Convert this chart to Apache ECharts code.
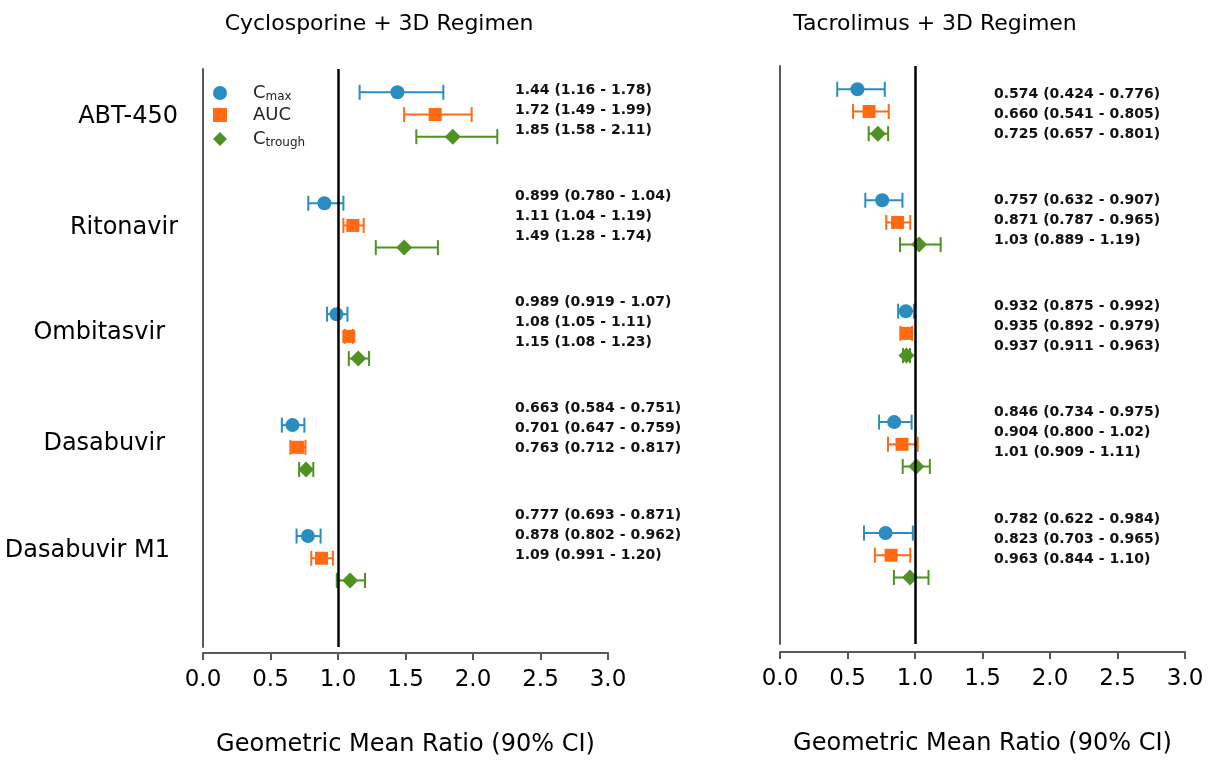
<!DOCTYPE html>
<html><head><meta charset="utf-8">
<script src="https://cdn.jsdelivr.net/npm/echarts@6/dist/echarts.min.js"></script>
<style>html,body{margin:0;padding:0;background:#fff}#chart{width:1209px;height:762px}</style>
</head><body><div id="chart"></div>
<script>
// ---------------- DATA ----------------
const categories = ['ABT-450', 'Ritonavir', 'Ombitasvir', 'Dasabuvir', 'Dasabuvir M1'];
const measures = ['Cmax', 'AUC', 'Ctrough'];
const panelTitles = ['Cyclosporine + 3D Regimen', 'Tacrolimus + 3D Regimen'];
const axisTitle = 'Geometric Mean Ratio (90% CI)';
const xTickValues = [0, 0.5, 1, 1.5, 2, 2.5, 3];

// [estimate, lower, upper] as drawn
const cycCmax    = [[1.44, 1.16, 1.78], [0.899, 0.780, 1.04], [0.989, 0.919, 1.07], [0.663, 0.584, 0.751], [0.777, 0.693, 0.871]];
const cycAuc     = [[1.72, 1.49, 1.99], [1.11, 1.04, 1.19], [1.08, 1.05, 1.11], [0.701, 0.647, 0.759], [0.878, 0.802, 0.962]];
const cycCtrough = [[1.85, 1.58, 2.18], [1.49, 1.28, 1.74], [1.15, 1.08, 1.23], [0.763, 0.712, 0.817], [1.09, 0.991, 1.20]];

const tacCmax    = [[0.574, 0.424, 0.776], [0.757, 0.632, 0.907], [0.932, 0.875, 0.992], [0.846, 0.734, 0.975], [0.782, 0.622, 0.984]];
const tacAuc     = [[0.660, 0.541, 0.805], [0.871, 0.787, 0.965], [0.935, 0.892, 0.979], [0.904, 0.800, 1.02], [0.823, 0.703, 0.965]];
const tacCtrough = [[0.725, 0.657, 0.801], [1.03, 0.889, 1.19], [0.937, 0.911, 0.963], [1.01, 0.909, 1.11], [0.963, 0.844, 1.10]];

// printed text
const cycLabels = [
  ['1.44 (1.16 - 1.78)', '1.72 (1.49 - 1.99)', '1.85 (1.58 - 2.11)'],
  ['0.899 (0.780 - 1.04)', '1.11 (1.04 - 1.19)', '1.49 (1.28 - 1.74)'],
  ['0.989 (0.919 - 1.07)', '1.08 (1.05 - 1.11)', '1.15 (1.08 - 1.23)'],
  ['0.663 (0.584 - 0.751)', '0.701 (0.647 - 0.759)', '0.763 (0.712 - 0.817)'],
  ['0.777 (0.693 - 0.871)', '0.878 (0.802 - 0.962)', '1.09 (0.991 - 1.20)']
];
const tacLabels = [
  ['0.574 (0.424 - 0.776)', '0.660 (0.541 - 0.805)', '0.725 (0.657 - 0.801)'],
  ['0.757 (0.632 - 0.907)', '0.871 (0.787 - 0.965)', '1.03 (0.889 - 1.19)'],
  ['0.932 (0.875 - 0.992)', '0.935 (0.892 - 0.979)', '0.937 (0.911 - 0.963)'],
  ['0.846 (0.734 - 0.975)', '0.904 (0.800 - 1.02)', '1.01 (0.909 - 1.11)'],
  ['0.782 (0.622 - 0.984)', '0.823 (0.703 - 0.965)', '0.963 (0.844 - 1.10)']
];

// ---------------- STYLE / LAYOUT ----------------
const colors = ['#2A8CBF', '#FF6A13', '#4E9322'];
const symbols = ['circle', 'rect', 'diamond'];
const symbolSizes = [14, 13, 16];
const rowOffset = [-0.2, 0, 0.2];
const FONT = 'DejaVu Sans';
const panels = [
  { data: [cycCmax, cycAuc, cycCtrough], labels: cycLabels, gridLeft: 203, gridTop: 69, xOffset: 6,
    titleX: 374, textX: 515, textTop: 90 },
  { data: [tacCmax, tacAuc, tacCtrough], labels: tacLabels, gridLeft: 780, gridTop: 66, xOffset: 8,
    titleX: 930, textX: 994, textTop: 94 }
];
const textGroupStep = 106.25, textLineStep = 20;
const catLabelRight = [178, 178, 165, 165, 170];
const catLabelDy = [2, 2, -4, -4, -7];

function errRenderItem(params, api) {
  const y = api.value(3);
  const lo = api.coord([api.value(1), y]);
  const hi = api.coord([api.value(2), y]);
  const h = 7.5;
  const style = { stroke: api.visual('color'), lineWidth: 2 };
  return { type: 'group', children: [
    { type: 'line', shape: { x1: lo[0], y1: lo[1], x2: hi[0], y2: hi[1] }, style },
    { type: 'line', shape: { x1: lo[0], y1: lo[1] - h, x2: lo[0], y2: lo[1] + h }, style },
    { type: 'line', shape: { x1: hi[0], y1: hi[1] - h, x2: hi[0], y2: hi[1] + h }, style }
  ]};
}

const grids = [], xAxes = [], yAxes = [], series = [], titles = [];
panels.forEach((p, pi) => {
  grids.push({ left: p.gridLeft, top: p.gridTop, width: 405, height: 578, containLabel: false });
  xAxes.push({
    type: 'value', gridIndex: pi, min: 0, max: 3, interval: 0.5, offset: p.xOffset,
    name: axisTitle, nameLocation: 'middle', nameGap: 80,
    nameTextStyle: { fontFamily: FONT, fontSize: 24, color: '#000' },
    axisLine: { show: true, lineStyle: { color: '#595959', width: 2 } },
    axisTick: { show: true, length: 7, lineStyle: { color: '#595959', width: 2 } },
    axisLabel: { fontFamily: FONT, fontSize: 23, color: '#000', margin: 16,
      formatter: v => v.toFixed(1), customValues: xTickValues },
    splitLine: { show: false }
  });
  yAxes.push({
    type: 'value', gridIndex: pi, min: 0.59, max: 5.8, inverse: true,
    axisLine: { show: true, onZero: false, lineStyle: { color: '#595959', width: 2 } },
    axisTick: { show: false }, axisLabel: { show: false }, splitLine: { show: false }
  });
  titles.push({ text: panelTitles[pi], left: p.titleX, top: 8, textAlign: 'center',
    textStyle: { fontFamily: FONT, fontSize: 22, fontWeight: 'normal', color: '#000' } });

  p.data.forEach((arr, k) => {
    series.push({
      name: measures[k], type: 'custom', xAxisIndex: pi, yAxisIndex: pi, z: 2,
      itemStyle: { color: colors[k] },
      renderItem: errRenderItem,
      encode: { x: [0, 1, 2], y: 3 },
      data: arr.map((d, i) => [d[0], d[1], d[2], i + 1 + rowOffset[k]]),
      markLine: k === 0 ? {
        silent: true, symbol: ['none', 'none'], label: { show: false },
        lineStyle: { color: '#000', width: 2.5, type: 'solid' },
        data: [{ xAxis: 1 }]
      } : undefined
    });
  });
  p.data.forEach((arr, k) => {
    series.push({
      name: measures[k], type: 'scatter', xAxisIndex: pi, yAxisIndex: pi, z: 4,
      symbol: symbols[k], symbolSize: symbolSizes[k],
      itemStyle: { color: colors[k], opacity: 1 },
      data: arr.map((d, i) => [d[0], i + 1 + rowOffset[k]])
    });
  });
});

const chart = echarts.init(document.getElementById('chart'), null, { renderer: 'canvas' });
chart.setOption({
  animation: false,
  backgroundColor: '#fff',
  title: titles,
  grid: grids, xAxis: xAxes, yAxis: yAxes, series: series,
  legend: {
    left: 208, top: 76, orient: 'vertical', itemGap: 2,
    itemWidth: 14, itemHeight: 14, selectedMode: false,
    data: [
      { name: 'Cmax', icon: 'circle' },
      { name: 'AUC', icon: 'rect' },
      { name: 'Ctrough', icon: 'diamond' }
    ],
    formatter: n => n === 'AUC' ? 'AUC' : ('C{sub|' + n.slice(1) + '}'),
    textStyle: {
      fontFamily: FONT, fontSize: 18, color: '#222', lineHeight: 20, padding: [0, 0, 0, 21],
      rich: { sub: { fontFamily: FONT, fontSize: 12, color: '#222', lineHeight: 20, verticalAlign: 'bottom', padding: [10, 0, 0, 0] } }
    }
  }
});

// text annotations
const graphics = [];
categories.forEach((c, i) => {
  const pt = chart.convertToPixel({ gridIndex: 0 }, [0, i + 1]);
  graphics.push({ type: 'text', x: catLabelRight[i], y: pt[1] + catLabelDy[i], silent: true,
    style: { text: c, fontFamily: FONT, fontSize: 24, fill: '#000', align: 'right', verticalAlign: 'middle' } });
});
panels.forEach(p => {
  p.labels.forEach((lines, g) => {
    lines.forEach((t, k) => {
      graphics.push({ type: 'text', x: p.textX, y: p.textTop + g * textGroupStep + k * textLineStep, silent: true,
        style: { text: t, fontFamily: FONT, fontSize: 14, fontWeight: 'bold', fill: '#111', align: 'left', verticalAlign: 'middle' } });
    });
  });
});
chart.setOption({ graphic: graphics });
</script>
</body></html>
